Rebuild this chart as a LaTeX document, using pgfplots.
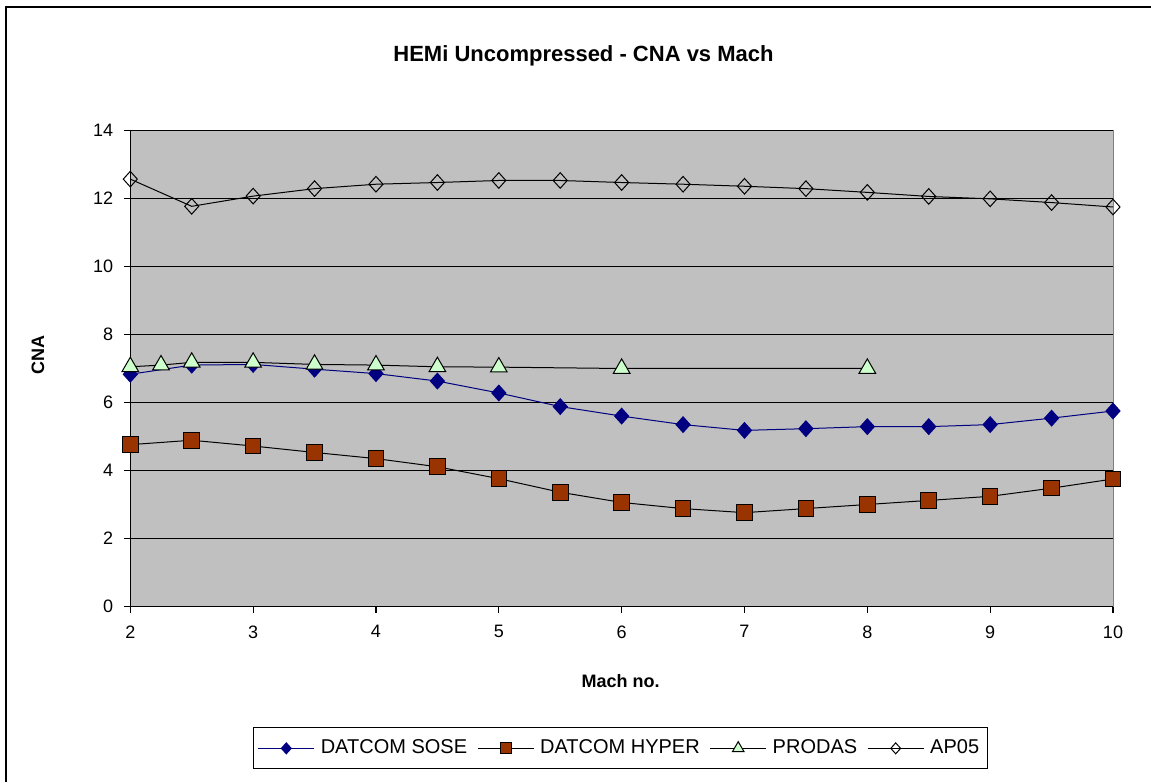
\documentclass[border=0pt]{standalone}
\usepackage{pgfplots}
\pgfplotsset{compat=1.18}
\usepackage{fontspec}
\setmainfont{Liberation Sans}
\definecolor{sose}{HTML}{000080}
\definecolor{hyper}{HTML}{993300}
\definecolor{prodas}{HTML}{CCFFCC}
\definecolor{plotbg}{HTML}{C0C0C0}
\begin{document}
\begin{tikzpicture}
\path (0,0) rectangle (575.5pt,391pt);
\draw[line width=1pt] (3pt,0) -- (3pt,387.5pt) -- (575.5pt,387.5pt);
\begin{axis}[
  at={(65.15pt,87.75pt)}, anchor=south west,
  scale only axis, width=491.35pt, height=238pt,
  xmin=2, xmax=10, ymin=0, ymax=14,
  xtick={2,3,4,5,6,7,8,9,10}, ytick={0,2,4,6,8,10,12,14},
  axis x line*=bottom, axis y line*=left,
  axis line style={black, line width=0.6pt, -},
  tick style={black, line width=0.6pt},
  tick align=outside, major tick length=3pt,
  ymajorgrids, major grid style={black, line width=0.5pt},
  axis background/.style={fill=plotbg},
  clip=false,
  /pgf/number format/assume math mode=true,
  ticklabel style={font=\fontsize{9}{10}\selectfont},
  xticklabel style={yshift=-3pt},
  yticklabel style={xshift=-2pt},
  title={\textbf{HEMi Uncompressed - CNA vs Mach}},
  title style={font=\fontsize{11}{12}\selectfont, at={(axis description cs:0.4612,1.1313)}, anchor=center},
  xlabel={\textbf{Mach no.}},
  xlabel style={font=\fontsize{9}{10}\selectfont, at={(axis description cs:0.499,-0.1565)}, anchor=center},
  ylabel={\textbf{CNA}},
  ylabel style={font=\fontsize{9}{10}\selectfont, at={(axis description cs:-0.0939,0.528)}, anchor=center, rotate=0},
  legend columns=4,
  legend style={at={(axis description cs:0.4988,-0.298)}, anchor=center,
    draw=black, line width=0.5pt, font=\fontsize{10}{11}\selectfont,
    inner xsep=2pt, inner ysep=4pt,
    /tikz/every odd column/.append style={column sep=1pt},
    /tikz/every even column/.append style={column sep=3pt}},
  legend image code/.code={
    \draw[#1, mark repeat=2, mark phase=2, every mark/.append style={scale=0.7}] plot coordinates {(0pt,0pt) (14pt,0pt) (28pt,0pt)};
  },
]
\draw[gray, line width=0.5pt] (axis cs:10,0) -- (axis cs:10,14);
\addplot[sose, line width=0.5pt, mark=diamond*, mark size=3.9pt, mark options={fill=sose, draw=sose, xscale=1.2}]
coordinates {(2,6.83) (2.5,7.10) (3,7.12) (3.5,6.98) (4,6.85) (4.5,6.63) (5,6.28) (5.5,5.88) (6,5.60) (6.5,5.35) (7,5.18) (7.5,5.23) (8,5.29) (8.5,5.29) (9,5.35) (9.5,5.54) (10,5.75)};
\addlegendentry{DATCOM SOSE}
\addplot[black, line width=0.5pt, mark=square*, mark size=3.9pt, mark options={fill=hyper, draw=black}]
coordinates {(2,4.76) (2.5,4.89) (3,4.72) (3.5,4.53) (4,4.35) (4.5,4.11) (5,3.76) (5.5,3.36) (6,3.06) (6.5,2.88) (7,2.76) (7.5,2.88) (8,3.00) (8.5,3.12) (9,3.24) (9.5,3.48) (10,3.75)};
\addlegendentry{DATCOM HYPER}
\addplot[black, line width=0.5pt, mark=triangle*, mark size=4.8pt, mark options={fill=prodas, draw=black}]
coordinates {(2,7.05) (2.25,7.10) (2.5,7.18) (3,7.18) (3.5,7.12) (4,7.10) (4.5,7.05) (5,7.04) (6,7.00) (8,7.00)};
\addlegendentry{PRODAS}
\addplot[black, line width=0.5pt, mark=diamond, mark size=3.9pt, mark options={draw=black, xscale=1.2}]
coordinates {(2,12.57) (2.5,11.77) (3,12.07) (3.5,12.29) (4,12.42) (4.5,12.47) (5,12.53) (5.5,12.53) (6,12.47) (6.5,12.42) (7,12.36) (7.5,12.29) (8,12.18) (8.5,12.06) (9,11.99) (9.5,11.88) (10,11.75)};
\addlegendentry{AP05}
\end{axis}
\pgfresetboundingbox
\path[use as bounding box] (0,0) rectangle (575.5pt,391pt);
\end{tikzpicture}
\end{document}
